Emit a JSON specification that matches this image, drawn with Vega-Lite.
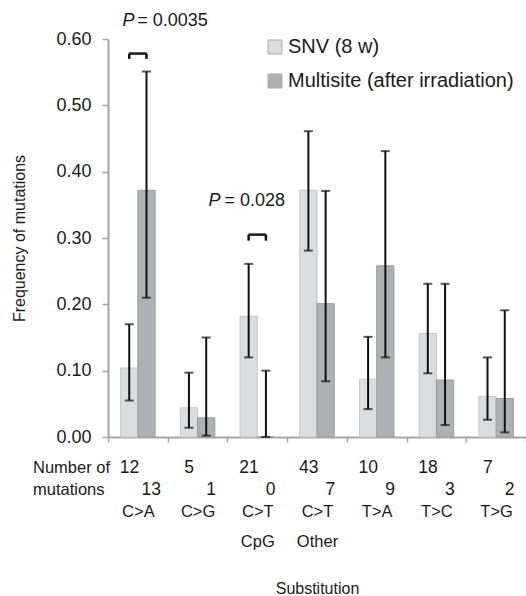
{
  "$schema": "https://vega.github.io/schema/vega-lite/v6.json",
  "width": 418,
  "height": 398,
  "autosize": "none",
  "padding": {"left": 108, "top": 39, "right": 0, "bottom": 159},
  "config": {
    "font": "Liberation Sans",
    "view": {"stroke": null},
    "text": {"color": "#1a1a1a"}
  },
  "datasets": {
    "bars": [
      {"cat": "C>A", "series": "SNV (8 w)", "freq": 0.104, "lo": 0.055, "hi": 0.170, "n": "12"},
      {"cat": "C>A", "series": "Multisite (after irradiation)", "freq": 0.372, "lo": 0.210, "hi": 0.551, "n": "13"},
      {"cat": "C>G", "series": "SNV (8 w)", "freq": 0.044, "lo": 0.014, "hi": 0.097, "n": "5"},
      {"cat": "C>G", "series": "Multisite (after irradiation)", "freq": 0.029, "lo": 0.002, "hi": 0.150, "n": "1"},
      {"cat": "C>T CpG", "series": "SNV (8 w)", "freq": 0.182, "lo": 0.120, "hi": 0.261, "n": "21"},
      {"cat": "C>T CpG", "series": "Multisite (after irradiation)", "freq": 0.0, "lo": 0.0, "hi": 0.100, "n": "0"},
      {"cat": "C>T Other", "series": "SNV (8 w)", "freq": 0.372, "lo": 0.281, "hi": 0.461, "n": "43"},
      {"cat": "C>T Other", "series": "Multisite (after irradiation)", "freq": 0.201, "lo": 0.084, "hi": 0.371, "n": "7"},
      {"cat": "T>A", "series": "SNV (8 w)", "freq": 0.087, "lo": 0.042, "hi": 0.151, "n": "10"},
      {"cat": "T>A", "series": "Multisite (after irradiation)", "freq": 0.258, "lo": 0.120, "hi": 0.431, "n": "9"},
      {"cat": "T>C", "series": "SNV (8 w)", "freq": 0.156, "lo": 0.096, "hi": 0.231, "n": "18"},
      {"cat": "T>C", "series": "Multisite (after irradiation)", "freq": 0.086, "lo": 0.018, "hi": 0.231, "n": "3"},
      {"cat": "T>G", "series": "SNV (8 w)", "freq": 0.061, "lo": 0.026, "hi": 0.120, "n": "7"},
      {"cat": "T>G", "series": "Multisite (after irradiation)", "freq": 0.058, "lo": 0.007, "hi": 0.191, "n": "2"}
    ],
    "brackets": [
      {"cat": "C>A", "series": "SNV (8 w)", "top": 0.578, "bottom": 0.570},
      {"cat": "C>A", "series": "Multisite (after irradiation)", "top": 0.578, "bottom": 0.570},
      {"cat": "C>T CpG", "series": "SNV (8 w)", "top": 0.305, "bottom": 0.296},
      {"cat": "C>T CpG", "series": "Multisite (after irradiation)", "top": 0.305, "bottom": 0.296}
    ],
    "rowlabel": [{"t": "Number of\nmutations"}]
  },
  "layer": [
    {
      "data": {"name": "bars"},
      "mark": {"type": "bar", "strokeWidth": 1},
      "encoding": {
        "x": {
          "field": "cat", "type": "nominal", "sort": null,
          "scale": {"paddingInner": 0, "paddingOuter": 0},
          "axis": {
            "title": "Substitution",
            "titleFontSize": 16, "titleFontWeight": "normal", "titleColor": "#1a1a1a", "titlePadding": 31,
            "labelAngle": 0, "labelFontSize": 16.5, "labelColor": "#1a1a1a",
            "labelExpr": "split(datum.label, ' ')",
            "labelBaseline": "top", "labelLineHeight": 30, "labelPadding": 61,
            "tickBand": "extent", "tickSize": 5, "tickColor": "#a6a6a6", "tickWidth": 1.5,
            "domainColor": "#a6a6a6", "domainWidth": 2
          }
        },
        "xOffset": {
          "field": "series", "type": "nominal",
          "sort": ["SNV (8 w)", "Multisite (after irradiation)"],
          "scale": {"paddingInner": 0, "paddingOuter": 0.73}
        },
        "y": {
          "field": "freq", "type": "quantitative",
          "scale": {"domain": [0, 0.6], "nice": false, "zero": true},
          "axis": {
            "title": "Frequency of mutations",
            "titleFontSize": 16, "titleFontWeight": "normal", "titleColor": "#1a1a1a", "titlePadding": 28,
            "values": [0, 0.1, 0.2, 0.3, 0.4, 0.5, 0.6], "format": ".2f",
            "grid": false, "labelFontSize": 18, "labelColor": "#1a1a1a", "labelPadding": 11,
            "tickSize": 6, "tickColor": "#a6a6a6", "tickWidth": 1.5,
            "domainColor": "#a6a6a6", "domainWidth": 2
          }
        },
        "fill": {
          "field": "series", "type": "nominal",
          "sort": ["SNV (8 w)", "Multisite (after irradiation)"],
          "scale": {"range": ["#dcdddf", "#aeb1b4"]},
          "legend": {
            "title": null, "orient": "none", "legendX": 157, "legendY": -2,
            "padding": 0, "symbolType": "square", "symbolSize": 196,
            "symbolStrokeWidth": 1, "symbolStrokeColor": "#a9abae",
            "labelFontSize": 20, "labelColor": "#1a1a1a", "labelOffset": 3, "rowPadding": 14,
            "labelLimit": 400
          }
        },
        "stroke": {
          "field": "series", "type": "nominal",
          "sort": ["SNV (8 w)", "Multisite (after irradiation)"],
          "scale": {"range": ["#c6c7c9", "#9a9da0"]},
          "legend": null
        }
      }
    },
    {
      "data": {"name": "bars"},
      "mark": {"type": "rule", "color": "#111111", "strokeWidth": 2},
      "encoding": {
        "x": {"field": "cat", "type": "nominal", "sort": null},
        "xOffset": {"field": "series", "type": "nominal", "sort": ["SNV (8 w)", "Multisite (after irradiation)"]},
        "y": {"field": "lo", "type": "quantitative"},
        "y2": {"field": "hi"}
      }
    },
    {
      "data": {"name": "bars"},
      "mark": {"type": "tick", "orient": "horizontal", "color": "#111111", "size": 9, "thickness": 2},
      "encoding": {
        "x": {"field": "cat", "type": "nominal", "sort": null},
        "xOffset": {"field": "series", "type": "nominal", "sort": ["SNV (8 w)", "Multisite (after irradiation)"]},
        "y": {"field": "hi", "type": "quantitative"}
      }
    },
    {
      "data": {"name": "bars"},
      "mark": {"type": "tick", "orient": "horizontal", "color": "#111111", "size": 9, "thickness": 2},
      "encoding": {
        "x": {"field": "cat", "type": "nominal", "sort": null},
        "xOffset": {"field": "series", "type": "nominal", "sort": ["SNV (8 w)", "Multisite (after irradiation)"]},
        "y": {"field": "lo", "type": "quantitative"}
      }
    },
    {
      "data": {"name": "brackets"},
      "mark": {"type": "tick", "orient": "horizontal", "color": "#111111", "size": 17.5, "thickness": 2.5},
      "encoding": {
        "x": {"field": "cat", "type": "nominal", "sort": null},
        "y": {"field": "top", "type": "quantitative"}
      }
    },
    {
      "data": {"name": "brackets"},
      "mark": {"type": "rule", "color": "#111111", "strokeWidth": 2.5},
      "encoding": {
        "x": {"field": "cat", "type": "nominal", "sort": null},
        "xOffset": {"field": "series", "type": "nominal", "sort": ["SNV (8 w)", "Multisite (after irradiation)"]},
        "y": {"field": "top", "type": "quantitative"},
        "y2": {"field": "bottom"}
      }
    },
    {
      "data": {"name": "bars"},
      "transform": [{"filter": "datum.series === 'SNV (8 w)'"}],
      "mark": {"type": "text", "fontSize": 17.5, "align": "center", "baseline": "alphabetic", "dy": 35.7},
      "encoding": {
        "x": {"field": "cat", "type": "nominal", "sort": null, "bandPosition": 0.36},
        "y": {"datum": 0},
        "text": {"field": "n"}
      }
    },
    {
      "data": {"name": "bars"},
      "transform": [{"filter": "datum.series !== 'SNV (8 w)'"}],
      "mark": {"type": "text", "fontSize": 17.5, "align": "center", "baseline": "alphabetic", "dy": 57.7},
      "encoding": {
        "x": {"field": "cat", "type": "nominal", "sort": null, "bandPosition": 0.725},
        "y": {"datum": 0},
        "text": {"field": "n"}
      }
    },
    {
      "data": {"name": "rowlabel"},
      "mark": {"type": "text", "fontSize": 16.5, "align": "left", "baseline": "alphabetic", "dy": 35.7, "dx": -75, "lineBreak": "\n", "lineHeight": 22},
      "encoding": {
        "x": {"datum": "C>A", "bandPosition": 0},
        "y": {"datum": 0},
        "text": {"field": "t"}
      }
    },
    {
      "data": {"name": "rowlabel"},
      "mark": {"type": "text", "text": "P", "fontStyle": "italic", "fontSize": 18, "align": "left", "baseline": "alphabetic"},
      "encoding": {
        "x": {"datum": "C>A", "bandPosition": 0.243},
        "y": {"datum": 0.62}
      }
    },
    {
      "data": {"name": "rowlabel"},
      "mark": {"type": "text", "text": "= 0.0035", "fontSize": 18, "align": "left", "baseline": "alphabetic"},
      "encoding": {
        "x": {"datum": "C>A", "bandPosition": 0.49},
        "y": {"datum": 0.62}
      }
    },
    {
      "data": {"name": "rowlabel"},
      "mark": {"type": "text", "text": "P", "fontStyle": "italic", "fontSize": 18, "align": "left", "baseline": "alphabetic"},
      "encoding": {
        "x": {"datum": "C>G", "bandPosition": 0.683},
        "y": {"datum": 0.3476}
      }
    },
    {
      "data": {"name": "rowlabel"},
      "mark": {"type": "text", "text": "= 0.028", "fontSize": 18, "align": "left", "baseline": "alphabetic"},
      "encoding": {
        "x": {"datum": "C>G", "bandPosition": 0.951},
        "y": {"datum": 0.3476}
      }
    }
  ]
}
